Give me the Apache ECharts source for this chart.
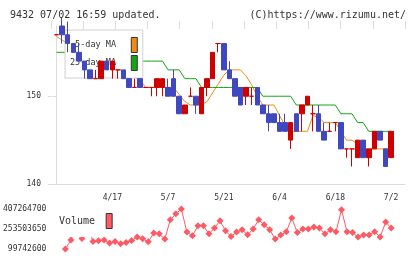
<!DOCTYPE html>
<html>
<head>
<meta charset="UTF-8" />
<title>9432</title>
<style type="text/css">
body,html{margin:0;padding:0;border:0;width:100%;height:100%;overflow:hidden;background:#fff;}
</style>
<script src="https://cdn.jsdelivr.net/npm/echarts@6/dist/echarts.min.js"></script>
<script type="text/javascript">
// daily prices (yen), one entry per trading day
var openP  = [157,158,157,156,155,154,153,152,152,154,153,153,153,152,151,152,151,151,151,151,151,152,150,148,150,150,148,151,152,156,
              156,153,152,151,150,150,151,149,148,148,147,147,145,148,148,149,148,148,146,146,147,147,144,144,143,145,143,144,146,144,143];
var closeP = [157,157,156,155,154,153,152,152,154,153,154,153,152,151,151,151,151,151,152,152,150,150,148,149,150,149,151,152,155,156,
              153,152,150,149,151,150,149,148,147,147,146,146,147,146,149,150,148,146,145,146,147,144,144,144,145,143,144,146,145,142,146];
var lowP   = [157,156,155,155,154,152,152,152,152,153,152,152,152,151,151,151,151,150,150,150,150,150,148,148,150,148,148,150,152,155,
              153,152,150,149,149,149,149,148,146,147,146,146,144,146,146,149,146,146,145,146,146,144,143,142,143,143,142,144,145,142,143];
var highP  = [157,159,158.5,156,156,154,153,153,154,154,154,153,153,152,152,152,151,151,152,152,152,153,150,149,151,150,151,152,155,156,
              156,154,152,151,151,151,151,149,149,148,148,148,147,148,149,150,149,149,147,147,147,147,144,144,145,145,144,146,146,144,146];
var ma5    = [156.8,156.4,156,156,155.8,155,154,153.2,153,153,153,153.2,153.2,152.6,152.2,151.8,151,151,151,151,151,151,150.2,149.4,149,149,149,149.4,150.4,151.4,
              152.4,153,153,153,152.3,151.3,150,149,149,149,147.8,146.6,146,146,146,146,147.8,147.6,147,147,147,146,145,145,144.5,144,144,144,144,144,144];
var ma25   = [155,155,155,155,155,155,155,155,154,154,154,154,154,154,154,154,154,154,154,154,153,153,153,152,152,152,151,151,151,151,
              151,151,151,151,151,151,151,150,150,150,150,150,150,149,149,149,149,149,149,149,149,148,148,148,147,147,146,146,146,146,146];
var volume = [null,99742600,168200000,300000000,180500000,290000000,157400000,162800000,168200000,145100000,157400000,139700000,149700000,165100000,191200000,178200000,
              155100000,222000000,216600000,175900000,324200000,370400000,407264700,229700000,201200000,278100000,278100000,216600000,260400000,316500000,
              239700000,195800000,229700000,247400000,208900000,252700000,324200000,285800000,247400000,175900000,206600000,232000000,337300000,226600000,252700000,
              252700000,268100000,260400000,216600000,247400000,232000000,401100000,232000000,226600000,191200000,206600000,206600000,232000000,191200000,306600000,260400000];
var dateIdx  = [10,20,30,40,50,60];
var dateText = ['4/17','5/7','5/21','6/4','6/18','7/2'];
var priceTicks = [140,150];
var volTicks = [99742600,253503650,407264700];

var FONT = 'DejaVu Sans Mono';

function init()
{
	var candles = [], l5 = [], l25 = [], vol = [];
	for (var i = 0; i < openP.length; i++) {
		candles.push([i, openP[i], closeP[i], lowP[i], highP[i]]);
		l5.push([i, ma5[i]]);
		l25.push([i, ma25[i]]);
		vol.push([i, volume[i]]);
	}
	var gray = '#dcdcdc';
	var option = {
		animation: false,
		title: [
			{ text: '9432 07/02 16:59 updated.', left: 5, top: 5,
			  textStyle: { fontFamily: FONT, fontSize: 10, fontWeight: 'normal', color: '#333' } },
			{ text: '(C)https://www.rizumu.net/', right: 9, top: 5,
			  textStyle: { fontFamily: FONT, fontSize: 10, fontWeight: 'normal', color: '#333' } }
		],
		legend: [
			{
				data: ['5-day MA', '25-day MA'], orient: 'vertical', left: 65, top: 30,
				align: 'right', icon: 'rect', itemWidth: 6, itemHeight: 15, itemGap: 2,
				padding: [7, 5, 7, 5], borderColor: '#d0d0d0', borderWidth: 1, backgroundColor: '#fff',
				itemStyle: { borderColor: '#333', borderWidth: 1 },
				formatter: function (n) { return (n.length < 9 ? ' ' : '') + n + '  '; },
				textStyle: { fontFamily: FONT, fontSize: 8.5, color: '#333' },
				z: 2
			},
			{
				data: ['Volume'], left: 51, top: 205, align: 'right', icon: 'rect',
				itemWidth: 6, itemHeight: 15, padding: [8, 8, 8, 8], backgroundColor: '#fff',
				itemStyle: { borderColor: '#333', borderWidth: 1 },
				formatter: function (n) { return n + ' '; },
				textStyle: { fontFamily: FONT, fontSize: 10, color: '#333' },
				z: 2
			}
		],
		grid: [
			{ left: 51, right: 15, top: 26, bottom: 75 },
			{ left: 51, right: 15, top: 209, bottom: 10 }
		],
		xAxis: [
			{
				gridIndex: 0, type: 'value', min: -1, max: 62.5,
				axisLine: { show: true, lineStyle: { color: gray } },
				axisTick: { show: false }, splitLine: { show: false },
				axisLabel: {
					customValues: dateIdx, margin: 10,
					fontFamily: FONT, fontSize: 8, color: '#333',
					formatter: function (v) { return dateText[dateIdx.indexOf(v)]; }
				}
			},
			{
				gridIndex: 0, type: 'value', min: 0, max: 11, interval: 1,
				axisLine: { show: false }, splitLine: { show: false }, axisLabel: { show: false },
				axisTick: { show: true, length: 5, lineStyle: { color: gray } }
			},
			{
				gridIndex: 0, type: 'value', min: 0, max: 11, interval: 1,
				axisLine: { show: false }, splitLine: { show: false }, axisLabel: { show: false },
				axisTick: { show: true, inside: true, length: 3, lineStyle: { color: gray } }
			},
			{ gridIndex: 1, type: 'value', min: -1, max: 62.5, show: false }
		],
		yAxis: [
			{
				gridIndex: 0, type: 'value', min: 140, max: 158,
				axisLine: { show: true, lineStyle: { color: gray } },
				splitLine: { show: false },
				axisTick: { show: true, length: 5, customValues: priceTicks, lineStyle: { color: gray } },
				axisLabel: { customValues: priceTicks, margin: 10, fontFamily: FONT, fontSize: 8, color: '#333' }
			},
			{
				gridIndex: 0, type: 'value', min: 140, max: 158,
				axisLine: { show: false }, splitLine: { show: false }, axisLabel: { show: false },
				axisTick: { show: true, inside: true, length: 3, customValues: priceTicks, lineStyle: { color: gray } }
			},
			{
				gridIndex: 1, type: 'value', min: volTicks[0], max: volTicks[2],
				axisLine: { show: false }, axisTick: { show: false }, splitLine: { show: false },
				axisLabel: { customValues: volTicks, margin: 8, fontFamily: FONT, fontSize: 8, color: '#333',
					formatter: function (v) { return String(v); } }
			}
		],
		series: [
			{
				name: '5-day MA', type: 'line', xAxisIndex: 0, yAxisIndex: 0, data: l5,
				showSymbol: false, color: '#f08c14', lineStyle: { width: 1 }, z: 1
			},
			{
				name: '25-day MA', type: 'line', xAxisIndex: 0, yAxisIndex: 0, data: l25,
				showSymbol: false, color: '#14a514', lineStyle: { width: 1 }, z: 1
			},
			{
				name: 'price', type: 'candlestick', xAxisIndex: 0, yAxisIndex: 0, data: candles,
				encode: { x: 0, y: [1, 2, 3, 4] }, barWidth: 5, z: 3,
				itemStyle: {
					color: '#d00000', color0: '#4048c0',
					borderColor: '#d00000', borderColor0: '#4048c0', borderColorDoji: '#d00000',
					borderWidth: 1
				}
			},
			{
				name: 'Volume', type: 'line', xAxisIndex: 3, yAxisIndex: 2, data: vol,
				symbol: 'diamond', symbolSize: 7, color: '#ff5a64', lineStyle: { width: 1 }, z: 1
			}
		]
	};
	var chart = echarts.init(document.getElementById('chartContainer'));
	chart.setOption(option);
}
window.onload = init;
</script>
</head>
<body>
<div id="chartContainer" style="height:259px;width:420px;"></div>
</body>
</html>
